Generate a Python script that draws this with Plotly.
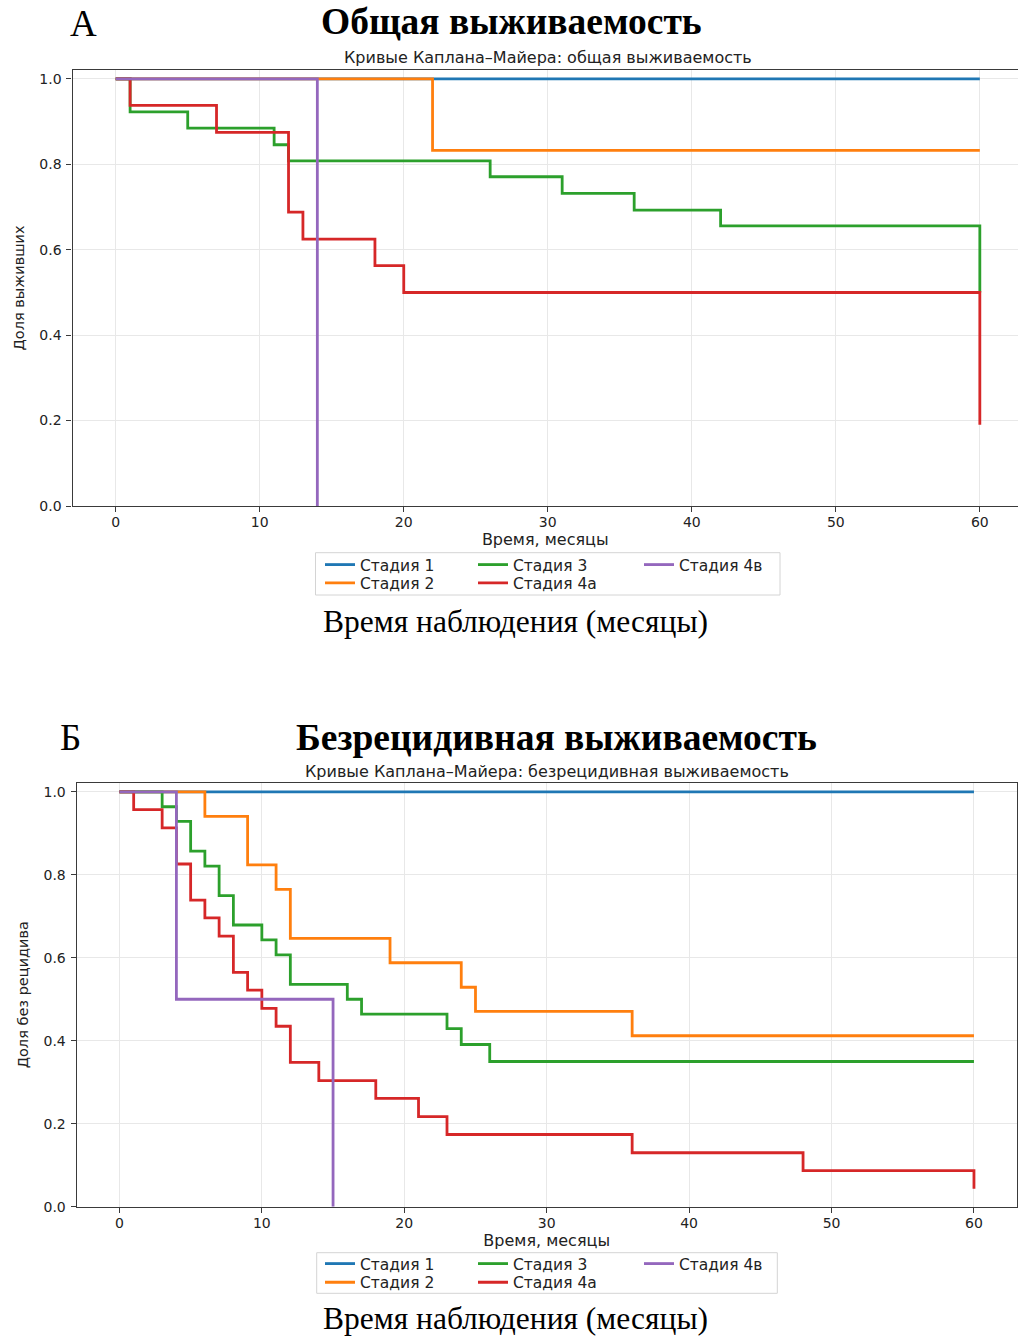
import plotly.graph_objects as go

# ---- data ---------------------------------------------------------------
stage_names = ["Стадия 1", "Стадия 2", "Стадия 3", "Стадия 4а", "Стадия 4в"]
stage_colors = ["#1f77b4", "#ff7f0e", "#2ca02c", "#d62728", "#9467bd"]

# Overall survival: event times (months) and Kaplan–Meier estimates
os_time_st1 = [0, 60]
os_surv_st1 = [1.0, 1.0]
os_time_st2 = [0, 22, 60]
os_surv_st2 = [1.0, 0.833, 0.833]
os_time_st3 = [0, 1, 5, 11, 12, 26, 31, 36, 42, 60]
os_surv_st3 = [1.0, 0.923, 0.885, 0.846, 0.808, 0.771, 0.732, 0.693, 0.656, 0.5]
os_time_st4a = [0, 1, 7, 12, 13, 18, 20, 60]
os_surv_st4a = [1.0, 0.938, 0.875, 0.688, 0.625, 0.563, 0.5, 0.19]
os_time_st4b = [0, 14]
os_surv_st4b = [1.0, 0.0]

# Recurrence-free survival
rfs_time_st1 = [0, 60]
rfs_surv_st1 = [1.0, 1.0]
rfs_time_st2 = [0, 6, 9, 11, 12, 19, 24, 25, 36, 60]
rfs_surv_st2 = [1.0, 0.941, 0.824, 0.765, 0.647, 0.588, 0.529, 0.471, 0.412, 0.412]
rfs_time_st3 = [0, 3, 4, 5, 6, 7, 8, 10, 11, 12, 16, 17, 23, 24, 26, 60]
rfs_surv_st3 = [1.0, 0.964, 0.929, 0.857, 0.821, 0.75, 0.679, 0.643, 0.607,
                0.536, 0.5, 0.464, 0.429, 0.391, 0.35, 0.35]
rfs_time_st4a = [0, 1, 3, 4, 5, 6, 7, 8, 9, 10, 11, 12, 14, 18, 21, 23, 36, 48, 60]
rfs_surv_st4a = [1.0, 0.957, 0.913, 0.826, 0.739, 0.696, 0.652, 0.565, 0.522,
                 0.478, 0.435, 0.348, 0.304, 0.261, 0.217, 0.174, 0.130, 0.087, 0.043]
rfs_time_st4b = [0, 4, 15]
rfs_surv_st4b = [1.0, 0.5, 0.0]

x_ticks = [0, 10, 20, 30, 40, 50, 60]
y_ticks = [0.0, 0.2, 0.4, 0.6, 0.8, 1.0]

# ---- layout helpers (pixel -> paper) ------------------------------------
W, H = 1018, 1338


def px(v):
    return v / W


def py(v):
    return 1 - v / H


SANS = "DejaVu Sans"
SERIF = "Liberation Serif"
INK = "#222222"

os_series = [
    (os_time_st1, os_surv_st1), (os_time_st2, os_surv_st2), (os_time_st3, os_surv_st3),
    (os_time_st4a, os_surv_st4a), (os_time_st4b, os_surv_st4b),
]
rfs_series = [
    (rfs_time_st1, rfs_surv_st1), (rfs_time_st2, rfs_surv_st2), (rfs_time_st3, rfs_surv_st3),
    (rfs_time_st4a, rfs_surv_st4a), (rfs_time_st4b, rfs_surv_st4b),
]

# legend rows: stages 1, 3, 4в on the first row; 2, 4а on the second
row_of_stage = [0, 1, 0, 1, 0]
entry_width = [108, 108, 121, 121, 108]

fig = go.Figure()


def add_panel(series, xa, ya, legends):
    for i, (t, s) in enumerate(series):
        fig.add_trace(go.Scatter(
            x=t, y=s, mode="lines", name=stage_names[i],
            line=dict(shape="hv", color=stage_colors[i], width=2.8),
            xaxis=xa, yaxis=ya,
            legend=legends[row_of_stage[i]],
            legendwidth=entry_width[i],
            hoverinfo="skip",
        ))


add_panel(os_series, "x", "y", ["legend", "legend2"])
add_panel(rfs_series, "x2", "y2", ["legend3", "legend4"])

axis_common = dict(
    showgrid=True, gridcolor="#e8e8e8", gridwidth=1, zeroline=False,
    showline=True, linecolor="#3a3a3a", linewidth=1.3,
    ticks="outside", ticklen=5, tickwidth=1.1, tickcolor="#3a3a3a",
    tickfont=dict(family=SANS, size=14, color=INK),
    automargin=False,
)

xtitle_font = dict(family=SANS, size=16, color=INK)
ytitle_font = dict(family=SANS, size=14.5, color=INK)

fig.update_layout(
    width=W, height=H,
    margin=dict(l=0, r=0, t=0, b=0),
    paper_bgcolor="white", plot_bgcolor="white",
    showlegend=True,
    xaxis=dict(axis_common, domain=[px(72.5), 1.0], range=[-3, 62.65], anchor="y",
               tickvals=x_ticks, mirror=True, ticklabelstandoff=-2,
               title=dict(text="Время, месяцы", font=xtitle_font, standoff=0)),
    yaxis=dict(axis_common, domain=[py(506), py(70)], range=[0, 1.021], anchor="x",
               tickvals=y_ticks, tickformat=".1f", mirror=False, ticklabelstandoff=2,
               title=dict(text="Доля выживших", font=ytitle_font, standoff=11)),
    xaxis2=dict(axis_common, domain=[px(76.7), px(1016.7)], range=[-3, 63], anchor="y2",
                tickvals=x_ticks, mirror=True, ticklabelstandoff=-2,
                title=dict(text="Время, месяцы", font=xtitle_font, standoff=0)),
    yaxis2=dict(axis_common, domain=[py(1206.7), py(782.7)], range=[0, 1.022], anchor="x2",
                tickvals=y_ticks, tickformat=".1f", mirror=True, ticklabelstandoff=2,
                title=dict(text="Доля без рецидива", font=ytitle_font, standoff=11)),
)

legend_common = dict(
    orientation="h", xanchor="left", yanchor="middle",
    font=dict(family=SANS, size=15.5, color=INK),
    bgcolor="rgba(0,0,0,0)", borderwidth=0, tracegroupgap=0,
)
fig.update_layout(
    legend=dict(legend_common, x=px(320), y=py(565)),
    legend2=dict(legend_common, x=px(320), y=py(583.3)),
    legend3=dict(legend_common, x=px(320), y=py(1264)),
    legend4=dict(legend_common, x=px(320), y=py(1282.7)),
)

# legend frames
for (x0, y0, x1, y1) in [(315.5, 552.7, 780, 595), (316.7, 1252.7, 777.3, 1293.3)]:
    fig.add_shape(type="rect", xref="paper", yref="paper",
                  x0=px(x0), x1=px(x1), y0=py(y1), y1=py(y0),
                  line=dict(color="#d4d4d4", width=1), fillcolor="rgba(255,255,255,0.8)",
                  layer="below")


def label(text, x, y, family, size, color="black", yanchor="middle"):
    fig.add_annotation(text=text, x=px(x), y=py(y), xref="paper", yref="paper",
                       xanchor="center", yanchor=yanchor, showarrow=False,
                       font=dict(family=family, size=size, color=color))


# panel А
label("А", 83, 23, SERIF, 37)
label("<b>Общая выживаемость</b>", 511, 22, SERIF, 37.5)
label("Кривые Каплана–Майера: общая выживаемость", 548, 57, SANS, 16, INK)
label("Время наблюдения (месяцы)", 515, 622, SERIF, 31.5)

# panel Б
label("Б", 70, 737, SERIF, 37)
label("<b>Безрецидивная выживаемость</b>", 556, 737, SERIF, 37.5)
label("Кривые Каплана–Майера: безрецидивная выживаемость", 546.5, 771, SANS, 16, INK)
label("Время наблюдения (месяцы)", 515, 1338, SERIF, 31.5, yanchor="bottom")

fig.write_html("out.html")
